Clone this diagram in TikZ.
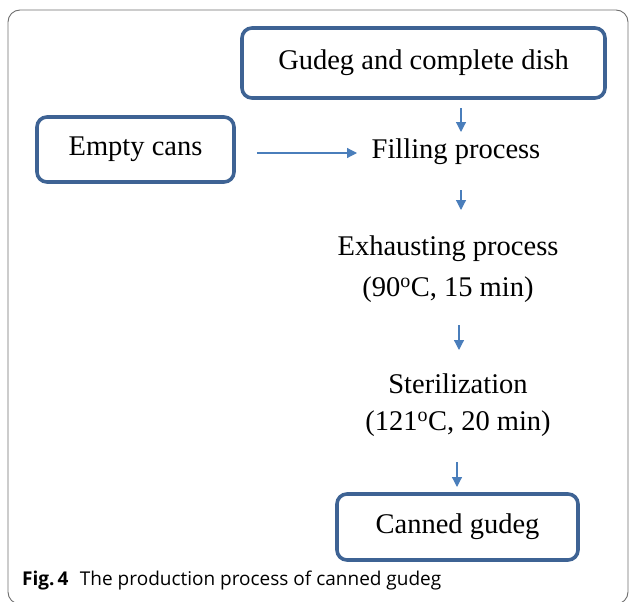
\documentclass[tikz,border=0pt]{standalone}
\usepackage{fontspec}
\setmainfont{Liberation Serif}
\newfontfamily\capfont{Open Sans}
\usetikzlibrary{arrows.meta}
\definecolor{boxblue}{HTML}{3E6394}
\definecolor{arrowblue}{HTML}{4A7EBB}
\definecolor{framegray}{HTML}{6E6E6E}
\begin{document}
\begin{tikzpicture}[x=1pt,y=-1pt,
  mainfont/.style={font=\fontsize{28.5}{37}\selectfont},
  stepbox/.style={draw=boxblue,line width=3.6pt,rounded corners=10pt,mainfont,inner sep=0pt},
  steptext/.style={mainfont,align=center,inner sep=0pt},
  arr/.style={draw=arrowblue,line width=1.2pt,-{Triangle[length=10pt,width=10pt]}}]
  \useasboundingbox (0,0) rectangle (629,602);
  % outer frame
  \draw[framegray,line width=0.9pt,rounded corners=12pt] (8,10) rectangle (628,604);
  % boxed items
  \node[stepbox,minimum width=363pt,minimum height=70pt] (gudeg) at (423.5,63) {Gudeg and complete dish};
  \node[stepbox,minimum width=197pt,minimum height=65pt] (cans) at (135.5,149.5) {Empty cans};
  \node[stepbox,minimum width=241pt,minimum height=66pt] (canned) at (457.5,527) {Canned gudeg};
  % process steps
  \node[steptext] (fill) at (456,152) {Filling process};
  \node[steptext,font=\fontsize{28.5}{41}\selectfont] (exh) at (448,269.5) {Exhausting process\\(90\textsuperscript{o}C, 15 min)};
  \node[steptext] (ster) at (458,405.5) {Sterilization\\(121\textsuperscript{o}C, 20 min)};
  % connectors
  \draw[arr] ([shift={(37.5pt,-45pt)}]gudeg.center) -- ([shift={(5pt,20pt)}]fill.center);
  \draw[arr] ([shift={(21pt,-3.5pt)}]cans.east) -- ([shift={(-99pt,-1pt)}]fill.center);
  \draw[arr] ([shift={(5pt,-38pt)}]fill.center) -- ([shift={(13pt,59.5pt)}]exh.center);
  \draw[arr] ([shift={(11pt,-55.5pt)}]exh.center) -- ([shift={(1pt,55.5pt)}]ster.center);
  \draw[arr] ([shift={(-1pt,-56.5pt)}]ster.center) -- ([shift={(-0.5pt,40pt)}]canned.center);
  % caption
  \node[anchor=base west,inner sep=0pt,font=\capfont\fontsize{19}{22}\selectfont] (cap) at (22,585)
    {\textbf{Fig.\,4}\hspace{0.6em}The production process of canned gudeg};
\end{tikzpicture}
\end{document}
